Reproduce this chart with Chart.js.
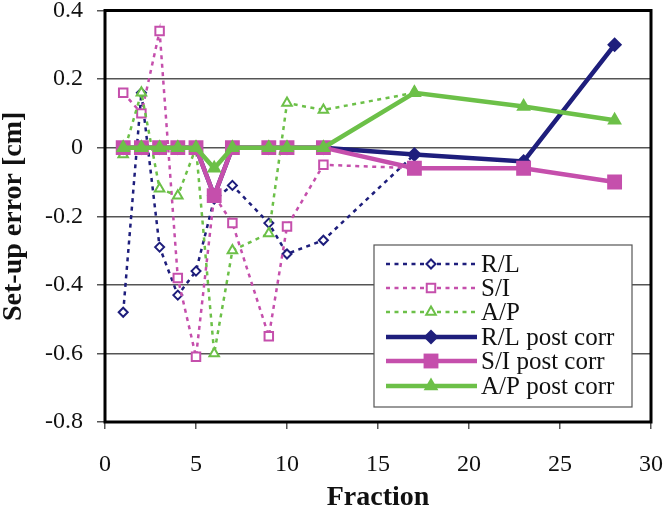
<!DOCTYPE html>
<html>
<head>
<meta charset="utf-8">
<script src="https://cdn.jsdelivr.net/npm/chart.js@4/dist/chart.umd.min.js"></script>
<style>
  html, body { margin: 0; padding: 0; background: #fff; }
  #c { display: block; }
</style>
</head>
<body>
<canvas id="c" width="664" height="512"></canvas>
<script>
// data
const fractions = [1, 2, 3, 4, 5, 6, 7, 9, 10, 12, 17];
const rl = [-0.48, 0.16, -0.29, -0.43, -0.36, -0.15, -0.11, -0.22, -0.31, -0.27, -0.02];
const si = [0.16, 0.10, 0.34, -0.38, -0.61, -0.14, -0.22, -0.55, -0.23, -0.05, -0.06];
const ap = [-0.02, 0.16, -0.12, -0.14, 0.00, -0.60, -0.30, -0.25, 0.13, 0.11, 0.16];

const fractionsPost = [1, 2, 3, 4, 5, 6, 7, 9, 10, 12, 17, 23, 28];
const rlPost = [0, 0, 0, 0, 0, -0.14, 0, 0, 0, 0, -0.02, -0.04, 0.30];
const siPost = [0, 0, 0, 0, 0, -0.14, 0, 0, 0, 0, -0.06, -0.06, -0.10];
const apPost = [0, 0, 0, 0, 0, -0.06, 0, 0, 0, 0, 0.16, 0.12, 0.08];

const yTicks = [-0.8, -0.6, -0.4, -0.2, 0, 0.2, 0.4];
const xTicks = [0, 5, 10, 15, 20, 25, 30];

const navy = '#1e1e7c';
const pink = '#c54fac';
const green = '#6cc048';

function pts(xs, ys) { return xs.map((x, i) => ({x: x, y: ys[i]})); }

function dashed(label, xs, ys, color, style, r) {
  return {
    label: label, data: pts(xs, ys),
    borderColor: color, borderWidth: 2.5, borderDash: [4, 4.5],
    pointStyle: style, pointRadius: r, pointBorderWidth: 2,
    pointBackgroundColor: '#fff', pointBorderColor: color,
    showLine: true, tension: 0
  };
}
function solid(label, xs, ys, color, style, r) {
  return {
    label: label, data: pts(xs, ys),
    borderColor: color, borderWidth: 4.5,
    pointStyle: style, pointRadius: r, pointBorderWidth: 0,
    pointBackgroundColor: color, pointBorderColor: color,
    showLine: true, tension: 0
  };
}

const datasets = [
  dashed('R/L', fractions, rl, navy, 'rectRot', 4.5),
  dashed('S/I', fractions, si, pink, 'rect', 6),
  dashed('A/P', fractions, ap, green, 'triangle', 5.5),
  solid('R/L post corr', fractionsPost, rlPost, navy, 'rectRot', 7.5),
  solid('S/I post corr', fractionsPost, siPost, pink, 'rect', 10.5),
  solid('A/P post corr', fractionsPost, apPost, green, 'triangle', 8.5)
];
// later series drawn on top
datasets.forEach((d, i) => { d.order = datasets.length - i; });

const frame = {
  id: 'frame',
  beforeDatasetsDraw(chart) {
    const a = chart.chartArea, ctx = chart.ctx;
    ctx.save();
    ctx.strokeStyle = '#000';
    ctx.lineWidth = 3;
    ctx.strokeRect(a.left, a.top, a.right - a.left, a.bottom - a.top);
    ctx.restore();
  },
  afterDatasetsDraw(chart) {
    const ctx = chart.ctx;
    const bx = 374, by = 245, bw = 258, bh = 162;
    ctx.save();
    ctx.fillStyle = '#fff';
    ctx.fillRect(bx, by, bw, bh);
    ctx.strokeStyle = '#555';
    ctx.lineWidth = 1.2;
    ctx.strokeRect(bx, by, bw, bh);
    const rows = [264, 288, 312, 337, 361, 386];
    chart.data.datasets.forEach((d, i) => {
      const y = rows[i];
      ctx.save();
      ctx.strokeStyle = d.borderColor;
      ctx.lineWidth = d.borderWidth;
      ctx.setLineDash(d.borderDash || []);
      ctx.beginPath();
      ctx.moveTo(386, y);
      ctx.lineTo(477, y);
      ctx.stroke();
      ctx.restore();
      ctx.save();
      ctx.fillStyle = d.pointBackgroundColor;
      ctx.strokeStyle = d.pointBorderColor;
      ctx.lineWidth = d.pointBorderWidth;
      Chart.helpers.drawPoint(ctx, {
        pointStyle: d.pointStyle, rotation: 0,
        radius: d.pointRadius, borderWidth: d.pointBorderWidth
      }, 431, y);
      ctx.restore();
      ctx.fillStyle = '#111';
      ctx.font = '25px "Liberation Serif", "Times New Roman", serif';
      ctx.textBaseline = 'middle';
      ctx.textAlign = 'left';
      ctx.fillText(d.label, 481, y + 1);
    });
    ctx.restore();
  }
};

new Chart(document.getElementById('c').getContext('2d'), {
  type: 'scatter',
  data: { datasets: datasets },
  options: {
    responsive: false,
    animation: false,
    layout: { padding: { left: 0, top: 8, right: 13, bottom: 0 } },
    plugins: { legend: { display: false }, tooltip: { enabled: false } },
    scales: {
      x: {
        type: 'linear', min: 0, max: 30,
        afterBuildTicks: s => { s.ticks = xTicks.map(v => ({value: v})); },
        afterFit: s => { s.height = 90; s.paddingLeft = 0; s.paddingRight = 0; },
        border: { display: false },
        grid: { display: true, drawOnChartArea: false, drawTicks: true, tickLength: 7, color: '#555', lineWidth: 1.5 },
        ticks: { color: '#111', padding: 21, maxRotation: 0,
          font: { family: '"Liberation Serif", "Times New Roman", serif', size: 24 } },
        title: { display: true, text: 'Fraction', color: '#111', padding: 0,
          font: { family: '"Liberation Serif", "Times New Roman", serif', size: 28, weight: 'bold', lineHeight: 1 } }
      },
      y: {
        type: 'linear', min: -0.8, max: 0.4,
        afterBuildTicks: s => { s.ticks = yTicks.map(v => ({value: v})); },
        afterFit: s => { s.width = 105; s.paddingTop = 0; s.paddingBottom = 0; },
        border: { display: false },
        grid: { color: '#555', lineWidth: 1.5, tickLength: 8, drawTicks: true },
        ticks: { color: '#111', padding: 14,
          callback: v => String(Math.round(v * 10) / 10),
          font: { family: '"Liberation Serif", "Times New Roman", serif', size: 24 } },
        title: { display: true, text: 'Set-up error [cm]', color: '#111', padding: 0,
          font: { family: '"Liberation Serif", "Times New Roman", serif', size: 28, weight: 'bold', lineHeight: 1 } }
      }
    }
  },
  plugins: [frame]
});
</script>
</body>
</html>
